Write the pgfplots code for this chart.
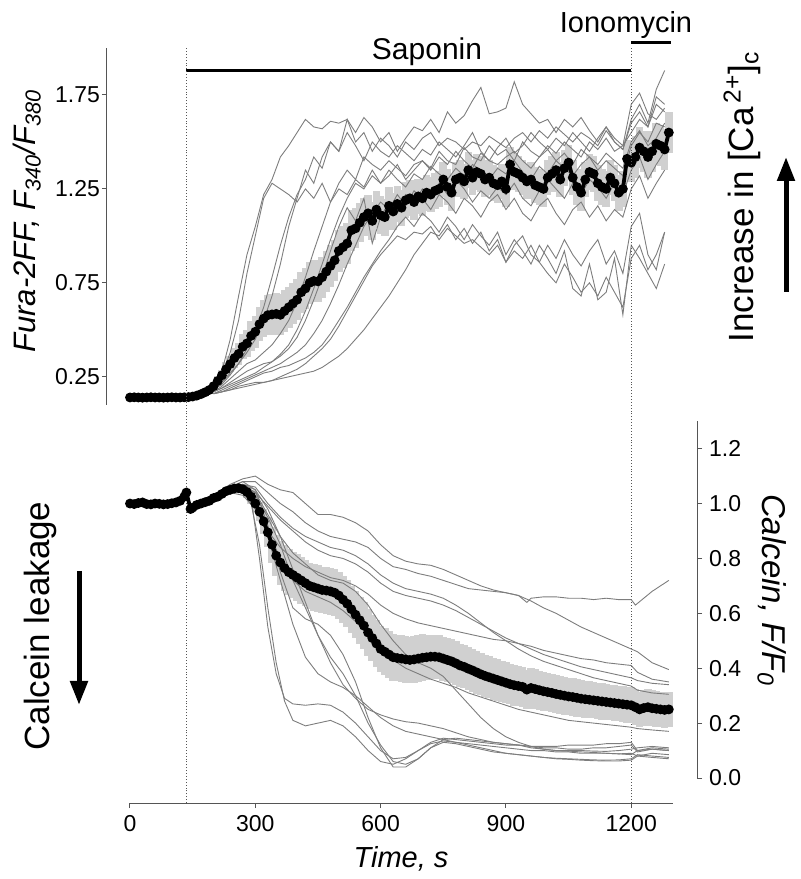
\documentclass[border=0pt]{standalone}
\usepackage{pgfplots}
\pgfplotsset{compat=1.18}
\usepackage{pgfplotstable}
\usepackage{fontspec}
\setmainfont{Liberation Sans}
\setsansfont{Liberation Sans}
\usetikzlibrary{arrows.meta}
\definecolor{band}{RGB}{208,208,208}
\definecolor{trace}{RGB}{125,125,125}
\definecolor{axisgray}{RGB}{85,85,85}
\newcommand\tickfont{\fontsize{11.5}{13}\selectfont}

\pgfplotstableread{
t m e
0 0.140 0.004
10 0.141 0.004
20 0.140 0.004
30 0.139 0.004
40 0.140 0.004
50 0.141 0.004
60 0.140 0.004
70 0.140 0.004
80 0.139 0.004
90 0.140 0.004
100 0.141 0.004
110 0.140 0.004
120 0.140 0.004
130 0.141 0.004
140 0.142 0.004
150 0.145 0.006
160 0.150 0.008
170 0.158 0.010
180 0.168 0.012
190 0.180 0.015
200 0.200 0.020
210 0.228 0.025
220 0.258 0.030
230 0.290 0.038
240 0.318 0.045
250 0.350 0.052
260 0.372 0.060
270 0.410 0.066
280 0.428 0.072
290 0.468 0.078
300 0.490 0.085
310 0.530 0.092
320 0.560 0.100
330 0.578 0.105
340 0.582 0.110
350 0.585 0.110
360 0.580 0.110
370 0.600 0.110
380 0.620 0.110
390 0.640 0.110
400 0.660 0.110
410 0.700 0.110
420 0.720 0.110
430 0.750 0.110
440 0.760 0.110
450 0.758 0.110
460 0.780 0.110
470 0.810 0.110
480 0.840 0.110
490 0.870 0.110
500 0.920 0.110
510 0.940 0.110
520 0.960 0.110
530 1.030 0.108
540 1.040 0.106
550 1.070 0.104
560 1.100 0.102
570 1.120 0.100
580 1.080 0.100
590 1.140 0.100
600 1.110 0.100
610 1.100 0.098
620 1.160 0.098
630 1.130 0.097
640 1.170 0.097
650 1.150 0.096
660 1.190 0.096
670 1.200 0.095
680 1.180 0.095
690 1.210 0.095
700 1.200 0.095
710 1.230 0.095
720 1.220 0.095
730 1.240 0.095
740 1.250 0.095
750 1.300 0.095
760 1.260 0.095
770 1.230 0.095
780 1.300 0.095
790 1.310 0.095
800 1.290 0.095
810 1.350 0.095
820 1.310 0.095
830 1.340 0.095
840 1.330 0.095
850 1.300 0.095
860 1.310 0.095
870 1.280 0.095
880 1.270 0.095
890 1.290 0.095
900 1.250 0.095
910 1.380 0.095
920 1.340 0.095
930 1.330 0.095
940 1.310 0.095
950 1.290 0.095
960 1.300 0.095
970 1.270 0.095
980 1.260 0.095
990 1.250 0.095
1000 1.310 0.095
1010 1.330 0.095
1020 1.350 0.095
1030 1.300 0.095
1040 1.360 0.095
1050 1.390 0.095
1060 1.310 0.095
1070 1.260 0.095
1080 1.230 0.095
1090 1.300 0.095
1100 1.340 0.095
1110 1.330 0.095
1120 1.280 0.095
1130 1.260 0.095
1140 1.250 0.095
1150 1.310 0.095
1160 1.280 0.095
1170 1.230 0.095
1180 1.250 0.095
1190 1.410 0.100
1200 1.390 0.105
1210 1.420 0.110
1220 1.470 0.110
1230 1.450 0.110
1240 1.420 0.110
1250 1.450 0.110
1260 1.490 0.110
1270 1.480 0.110
1280 1.460 0.110
1290 1.550 0.110
}\topmean

\pgfplotstableread{
t A B C D E F G H I J K
200 0.20 0.20 0.18 0.17 0.17 0.16 0.16 0.16 0.17 0.18 0.16
220 0.28 0.26 0.22 0.20 0.19 0.18 0.17 0.17 0.19 0.21 0.17
240 0.45 0.38 0.27 0.24 0.22 0.20 0.19 0.18 0.21 0.26 0.18
260 0.68 0.55 0.32 0.28 0.25 0.22 0.21 0.20 0.23 0.32 0.19
280 0.90 0.80 0.38 0.32 0.28 0.24 0.23 0.21 0.25 0.40 0.20
300 1.05 1.00 0.45 0.34 0.30 0.26 0.25 0.22 0.27 0.50 0.21
320 1.22 1.20 0.55 0.38 0.32 0.28 0.27 0.22 0.30 0.62 0.22
340 1.30 1.28 0.68 0.42 0.33 0.30 0.28 0.23 0.33 0.78 0.23
360 1.42 1.25 0.85 0.48 0.36 0.32 0.30 0.24 0.37 0.95 0.25
380 1.48 1.22 1.05 0.55 0.40 0.35 0.31 0.25 0.42 1.10 0.27
400 1.55 1.18 1.20 0.65 0.46 0.38 0.33 0.26 0.50 1.22 0.29
420 1.62 1.25 1.35 0.78 0.55 0.42 0.35 0.27 0.60 1.30 0.32
440 1.58 1.20 1.28 0.92 0.66 0.48 0.38 0.28 0.72 1.42 0.36
460 1.57 1.28 1.42 1.05 0.78 0.55 0.42 0.30 0.85 1.36 0.40
480 1.61 1.18 1.50 1.18 0.92 0.64 0.48 0.33 0.98 1.50 0.45
500 1.60 1.25 1.45 1.28 1.05 0.74 0.55 0.36 1.10 1.45 0.52
520 1.62 1.22 1.62 1.35 1.15 0.85 0.62 0.40 1.20 1.55 0.60
540 1.55 1.30 1.50 1.30 1.08 0.95 0.70 0.45 1.28 1.48 0.68
560 1.63 1.26 1.55 1.42 1.20 1.05 0.78 0.50 1.25 1.40 0.76
580 1.58 1.35 1.45 1.38 0.96 1.12 0.85 0.56 1.32 1.50 0.84
600 1.50 1.28 1.52 1.35 1.10 1.18 0.92 0.62 1.28 1.45 0.90
620 1.55 1.32 1.48 1.40 1.18 1.14 0.98 0.68 1.35 1.42 0.95
640 1.45 1.38 1.42 1.36 1.12 1.22 1.05 0.75 1.30 1.48 1.00
660 1.52 1.30 1.50 1.32 1.22 1.16 1.10 0.82 1.26 1.44 0.98
680 1.58 1.35 1.46 1.38 1.18 1.24 1.05 0.90 1.33 1.40 1.02
700 1.56 1.40 1.52 1.40 1.25 1.20 1.12 0.96 1.30 1.46 1.01
720 1.62 1.36 1.55 1.35 1.20 1.14 1.08 1.02 1.37 1.43 1.05
740 1.55 1.45 1.48 1.42 1.28 1.22 1.02 1.00 1.33 1.50 0.98
760 1.66 1.40 1.52 1.38 1.22 1.18 1.10 1.06 1.30 1.46 1.04
780 1.60 1.38 1.50 1.45 1.30 1.12 1.05 0.98 1.36 1.42 1.00
800 1.64 1.47 1.46 1.40 1.25 1.20 0.98 1.04 1.32 1.48 0.96
820 1.72 1.42 1.50 1.36 1.18 1.16 1.06 0.96 1.38 1.55 0.98
840 1.79 1.40 1.48 1.44 1.24 1.10 1.00 1.02 1.35 1.45 0.94
860 1.65 1.48 1.53 1.40 1.20 1.18 0.95 0.92 1.30 1.40 0.90
880 1.66 1.43 1.50 1.38 1.26 1.22 1.02 0.98 1.36 1.47 0.95
900 1.68 1.46 1.47 1.42 1.22 1.14 0.90 0.86 1.33 1.52 0.86
920 1.82 1.40 1.52 1.45 1.28 1.20 0.98 0.95 1.40 1.44 0.92
940 1.70 1.50 1.55 1.40 1.20 1.12 0.92 1.00 1.34 1.48 0.88
960 1.65 1.45 1.50 1.36 1.16 1.08 0.85 0.90 1.30 1.55 0.95
980 1.60 1.42 1.56 1.42 1.24 1.16 0.95 0.86 1.37 1.50 0.86
1000 1.62 1.48 1.52 1.46 1.30 1.20 0.88 0.95 1.33 1.46 0.80
1020 1.55 1.44 1.58 1.40 1.25 1.12 0.80 0.88 1.40 1.52 0.75
1040 1.62 1.50 1.54 1.44 1.20 1.06 0.92 0.98 1.36 1.48 0.85
1060 1.58 1.46 1.50 1.38 1.28 1.14 0.72 0.90 1.32 1.55 0.78
1080 1.63 1.42 1.55 1.46 1.22 1.18 0.68 0.84 1.38 1.50 0.70
1100 1.56 1.50 1.52 1.42 1.30 1.10 0.85 0.92 1.42 1.45 0.75
1120 1.50 1.46 1.48 1.38 1.26 1.16 0.66 0.98 1.35 1.52 0.68
1140 1.58 1.52 1.56 1.44 1.20 1.08 0.70 0.85 1.40 1.58 0.78
1160 1.52 1.45 1.50 1.40 1.28 1.14 0.88 0.92 1.36 1.50 0.70
1180 1.48 1.48 1.46 1.36 1.22 1.10 0.58 0.80 1.32 1.46 0.62
1200 1.70 1.55 1.60 1.50 1.35 1.25 0.95 1.05 1.48 1.62 0.88
1220 1.76 1.62 1.66 1.56 1.42 1.32 0.88 1.12 1.55 1.70 0.95
1240 1.65 1.58 1.58 1.48 1.30 1.20 0.80 0.90 1.50 1.60 0.82
1260 1.62 1.70 1.74 1.52 1.38 1.28 0.72 0.82 1.60 1.78 0.90
1280 1.68 1.66 1.70 1.60 1.45 1.35 0.85 1.02 1.58 1.88 1.02
}\toptraces

\pgfplotstableread{
t m e
0 1.000 0.003
10 0.998 0.003
20 1.002 0.003
30 1.004 0.003
40 0.998 0.003
50 0.997 0.003
60 1.000 0.003
70 0.999 0.003
80 0.997 0.003
90 0.998 0.003
100 1.001 0.003
110 1.004 0.003
120 1.010 0.003
130 1.025 0.003
135 1.040 0.003
145 0.980 0.003
150 0.985 0.003
160 0.995 0.003
170 1.000 0.003
180 1.005 0.003
190 1.010 0.003
200 1.020 0.004
210 1.025 0.004
220 1.035 0.005
230 1.045 0.005
240 1.050 0.006
250 1.055 0.008
260 1.056 0.010
270 1.052 0.015
280 1.042 0.020
290 1.025 0.025
300 1.000 0.030
310 0.970 0.035
320 0.935 0.045
330 0.895 0.055
340 0.850 0.065
350 0.810 0.075
360 0.785 0.080
370 0.765 0.085
380 0.750 0.085
390 0.740 0.085
400 0.730 0.085
410 0.720 0.085
420 0.710 0.085
430 0.700 0.085
440 0.695 0.085
450 0.690 0.085
460 0.685 0.085
470 0.683 0.085
480 0.680 0.085
490 0.675 0.085
500 0.665 0.085
510 0.650 0.085
520 0.635 0.085
530 0.615 0.085
540 0.595 0.085
550 0.575 0.085
560 0.555 0.085
570 0.530 0.085
580 0.510 0.085
590 0.490 0.085
600 0.470 0.085
610 0.460 0.085
620 0.450 0.085
630 0.440 0.085
640 0.437 0.085
650 0.435 0.085
660 0.432 0.085
670 0.430 0.085
680 0.432 0.085
690 0.435 0.085
700 0.438 0.085
710 0.440 0.082
720 0.442 0.080
730 0.442 0.080
740 0.440 0.080
750 0.435 0.080
760 0.430 0.080
770 0.425 0.080
780 0.418 0.080
790 0.410 0.080
800 0.405 0.078
810 0.398 0.078
820 0.392 0.078
830 0.385 0.078
840 0.378 0.077
850 0.372 0.077
860 0.367 0.076
870 0.362 0.076
880 0.357 0.075
890 0.352 0.075
900 0.347 0.075
910 0.342 0.074
920 0.338 0.074
930 0.335 0.073
940 0.332 0.073
950 0.322 0.072
960 0.328 0.072
970 0.324 0.072
980 0.320 0.071
990 0.316 0.071
1000 0.313 0.070
1010 0.310 0.070
1020 0.306 0.070
1030 0.303 0.069
1040 0.300 0.069
1050 0.297 0.068
1060 0.295 0.068
1070 0.292 0.068
1080 0.289 0.067
1090 0.287 0.067
1100 0.285 0.067
1110 0.283 0.066
1120 0.281 0.066
1130 0.279 0.066
1140 0.277 0.066
1150 0.275 0.065
1160 0.273 0.065
1170 0.271 0.065
1180 0.269 0.065
1190 0.267 0.065
1200 0.265 0.065
1210 0.258 0.065
1220 0.250 0.065
1230 0.255 0.065
1240 0.258 0.065
1250 0.254 0.065
1260 0.252 0.065
1270 0.250 0.065
1280 0.248 0.065
1290 0.250 0.065
}\botmean

\pgfplotsset{
  every non boxed x axis/.append style={x axis line style={-}},
  every non boxed y axis/.append style={y axis line style={-}},
  common/.style={
    scale only axis, width=271.5pt, height=178.5pt,
    xmin=0, xmax=1300, clip=false,
    tick align=outside, major tick length=2.5pt,
    tick style={axisgray, line width=0.5pt},
    axis line style={axisgray, line width=0.5pt},
    /pgf/number format/assume math mode=true,
    /pgf/number format/1000 sep={},
    ticklabel style={font=\tickfont},
  },
  tr/.style={trace, line width=0.45pt, no markers},
  bandstyle/.style={draw=none, no markers, forget plot,
    error bars/.cd, y dir=both, y explicit, error mark=none,
    error bar style={draw=band, solid, line width=3.8pt}},
  meanstyle/.style={black, line width=1.9pt, mark=*, mark size=1.45pt, mark options={solid}},
}

\begin{document}
\begin{tikzpicture}
\useasboundingbox (0,0) rectangle (400pt,439.5pt);

% ---------- top panel ----------
\begin{axis}[common, at={(65pt,237pt)}, anchor=south west,
  ymin=0.1, ymax=2.0,
  axis x line=none, axis y line*=left, axis y line shift=11.5pt,
  ytick={0.25,0.75,1.25,1.75},
  yticklabel style={xshift=2.5pt, /pgf/number format/.cd, fixed, fixed zerofill, precision=2},
]
\addplot[bandstyle] table[x=t, y=m, y error=e] {\topmean};
\foreach \c in {A,B,C,D,E,F,G,H,I,J,K}{
  \addplot[tr] table[x=t, y=\c] {\toptraces};
}
\addplot[meanstyle] table[x=t, y=m] {\topmean};
\draw[line width=1.5pt] (axis cs:135,1.878) -- (axis cs:1200,1.878);
\draw[line width=1.5pt] (axis cs:1200,2.027) -- (axis cs:1295,2.027);
\end{axis}

% ---------- bottom panel ----------
\begin{axis}[common, at={(65pt,50.5pt)}, anchor=south west,
  height=178.4pt, ymin=0, ymax=1.3,
  axis x line*=bottom, axis y line*=right,
  axis x line shift=12.5pt, axis y line shift=12pt,
  xtick={0,300,600,900,1200},
  ytick={0,0.2,0.4,0.6,0.8,1.0,1.2},
  yticklabel style={/pgf/number format/.cd, fixed, fixed zerofill, precision=1},
]
\draw[densely dotted, axisgray, line width=0.45pt] (axis cs:135,-0.091) -- (axis cs:135,2.66);
\draw[densely dotted, axisgray, line width=0.45pt] (axis cs:1200,-0.091) -- (axis cs:1200,2.66);
\addplot[bandstyle] table[x=t, y=m, y error=e] {\botmean};
\addplot[tr] coordinates {(210,1.04)(240,1.07)(270,1.09)(300,1.10)(330,1.07)(360,1.05)(390,1.04)(420,1.00)(450,0.96)(480,0.96)(510,0.95)(540,0.93)(570,0.90)(600,0.85)(630,0.81)(660,0.79)(690,0.78)(720,0.775)(750,0.76)(780,0.74)(810,0.72)(840,0.70)(870,0.685)(900,0.675)(930,0.665)(960,0.645)(990,0.62)(1020,0.60)(1050,0.575)(1080,0.55)(1110,0.53)(1140,0.51)(1170,0.49)(1200,0.47)(1215,0.46)(1250,0.42)(1290,0.395)};
\addplot[tr] coordinates {(210,1.03)(240,1.06)(270,1.08)(300,1.08)(330,1.04)(360,1.00)(390,0.97)(420,0.93)(450,0.90)(480,0.88)(510,0.87)(540,0.86)(570,0.84)(600,0.80)(630,0.77)(660,0.76)(690,0.745)(720,0.735)(750,0.72)(780,0.705)(810,0.69)(840,0.685)(870,0.68)(900,0.675)(930,0.665)(950,0.64)(960,0.655)(990,0.66)(1020,0.66)(1050,0.655)(1080,0.655)(1110,0.65)(1140,0.655)(1170,0.65)(1200,0.65)(1210,0.63)(1250,0.68)(1290,0.72)};
\addplot[tr] coordinates {(210,1.03)(240,1.05)(270,1.07)(300,1.06)(330,1.00)(360,0.95)(390,0.91)(420,0.88)(450,0.86)(480,0.84)(510,0.83)(540,0.81)(570,0.78)(600,0.74)(630,0.71)(660,0.69)(690,0.68)(720,0.67)(750,0.655)(780,0.63)(810,0.60)(840,0.565)(870,0.53)(900,0.50)(930,0.47)(960,0.445)(990,0.425)(1020,0.41)(1050,0.395)(1080,0.38)(1110,0.365)(1140,0.355)(1170,0.345)(1200,0.335)(1215,0.32)(1250,0.31)(1290,0.305)};
\addplot[tr] coordinates {(210,1.02)(240,1.05)(270,1.06)(300,1.04)(330,0.99)(360,0.94)(390,0.90)(420,0.86)(450,0.83)(480,0.81)(510,0.80)(540,0.78)(570,0.75)(600,0.71)(630,0.68)(660,0.665)(690,0.655)(720,0.645)(750,0.63)(780,0.61)(810,0.585)(840,0.56)(870,0.535)(900,0.51)(930,0.49)(960,0.47)(990,0.45)(1020,0.435)(1050,0.42)(1080,0.405)(1110,0.395)(1140,0.385)(1170,0.375)(1200,0.365)(1215,0.355)(1250,0.345)(1290,0.34)};
\addplot[tr] coordinates {(210,1.02)(240,1.04)(270,1.03)(300,0.98)(330,0.90)(360,0.84)(390,0.80)(420,0.77)(450,0.75)(480,0.73)(510,0.72)(540,0.70)(570,0.67)(600,0.63)(630,0.60)(660,0.58)(690,0.565)(720,0.555)(750,0.545)(780,0.535)(810,0.525)(840,0.515)(870,0.505)(900,0.50)(930,0.49)(960,0.48)(990,0.465)(1020,0.455)(1050,0.445)(1080,0.435)(1110,0.43)(1140,0.42)(1170,0.415)(1200,0.41)(1215,0.385)(1250,0.36)(1290,0.35)};
\addplot[tr] coordinates {(210,1.03)(240,1.05)(270,1.04)(300,0.99)(330,0.90)(360,0.80)(390,0.72)(420,0.68)(450,0.66)(480,0.64)(510,0.61)(540,0.57)(570,0.52)(600,0.47)(630,0.43)(660,0.40)(690,0.38)(720,0.36)(750,0.345)(780,0.33)(810,0.31)(840,0.295)(870,0.28)(900,0.265)(930,0.25)(960,0.24)(990,0.23)(1020,0.22)(1050,0.21)(1080,0.205)(1110,0.20)(1140,0.195)(1170,0.19)(1200,0.185)(1215,0.18)(1250,0.175)(1290,0.17)};
\addplot[tr] coordinates {(210,1.04)(240,1.06)(270,1.07)(300,1.04)(330,0.96)(360,0.88)(390,0.82)(420,0.78)(450,0.74)(480,0.72)(510,0.71)(540,0.68)(570,0.63)(600,0.56)(630,0.50)(660,0.45)(690,0.42)(720,0.40)(750,0.37)(780,0.32)(810,0.27)(840,0.22)(870,0.18)(900,0.15)(930,0.13)(960,0.115)(990,0.105)(1020,0.10)(1050,0.098)(1080,0.095)(1110,0.093)(1140,0.09)(1170,0.088)(1200,0.085)(1215,0.10)(1250,0.105)(1290,0.10)};
\addplot[tr] coordinates {(210,1.03)(240,1.05)(270,1.06)(290,1.02)(310,0.80)(330,0.55)(350,0.38)(370,0.29)(390,0.27)(420,0.265)(450,0.27)(480,0.265)(510,0.24)(540,0.20)(570,0.15)(600,0.10)(630,0.07)(660,0.075)(690,0.10)(720,0.125)(750,0.135)(780,0.13)(810,0.125)(840,0.12)(870,0.115)(900,0.11)(930,0.105)(960,0.10)(990,0.10)(1020,0.095)(1050,0.095)(1080,0.09)(1110,0.09)(1140,0.09)(1170,0.088)(1200,0.09)(1215,0.08)(1250,0.09)(1290,0.085)};
\addplot[tr] coordinates {(210,1.02)(240,1.04)(270,1.05)(290,1.00)(310,0.85)(330,0.62)(350,0.42)(370,0.28)(390,0.21)(420,0.19)(450,0.20)(480,0.21)(510,0.19)(540,0.15)(570,0.10)(600,0.06)(630,0.05)(660,0.07)(690,0.10)(720,0.13)(750,0.145)(780,0.14)(810,0.135)(840,0.13)(870,0.125)(900,0.12)(930,0.12)(960,0.115)(990,0.115)(1020,0.115)(1050,0.12)(1080,0.12)(1110,0.12)(1140,0.125)(1170,0.125)(1200,0.13)(1215,0.10)(1250,0.11)(1290,0.105)};
\addplot[tr] coordinates {(210,1.03)(240,1.05)(270,1.06)(300,1.03)(330,0.95)(360,0.85)(390,0.72)(420,0.62)(450,0.52)(480,0.44)(510,0.38)(540,0.30)(570,0.20)(600,0.12)(630,0.06)(660,0.05)(690,0.07)(720,0.11)(750,0.14)(780,0.145)(810,0.14)(840,0.135)(870,0.13)(900,0.125)(930,0.12)(960,0.115)(990,0.11)(1020,0.11)(1050,0.105)(1080,0.105)(1110,0.11)(1140,0.11)(1170,0.115)(1200,0.12)(1215,0.095)(1250,0.105)(1290,0.10)};
\addplot[tr] coordinates {(210,1.03)(240,1.06)(270,1.08)(300,1.05)(330,0.92)(360,0.75)(390,0.62)(420,0.58)(450,0.56)(480,0.52)(510,0.45)(540,0.35)(570,0.22)(600,0.11)(630,0.04)(660,0.04)(690,0.07)(720,0.11)(750,0.13)(780,0.125)(810,0.115)(840,0.105)(870,0.095)(900,0.09)(930,0.085)(960,0.08)(990,0.075)(1020,0.072)(1050,0.07)(1080,0.068)(1110,0.066)(1140,0.065)(1170,0.066)(1200,0.07)(1215,0.085)(1250,0.08)(1290,0.075)};
\addplot[tr] coordinates {(210,1.02)(240,1.04)(270,1.05)(300,1.00)(330,0.88)(360,0.72)(390,0.56)(420,0.44)(450,0.38)(480,0.35)(510,0.33)(540,0.30)(570,0.26)(600,0.22)(630,0.19)(660,0.17)(690,0.16)(720,0.15)(750,0.14)(780,0.13)(810,0.12)(840,0.11)(870,0.10)(900,0.09)(930,0.085)(960,0.08)(990,0.075)(1020,0.07)(1050,0.068)(1080,0.065)(1110,0.063)(1140,0.062)(1170,0.062)(1200,0.065)(1215,0.08)(1250,0.075)(1290,0.07)};
\addplot[tr] coordinates {(210,1.03)(240,1.06)(270,1.07)(300,1.05)(330,0.98)(360,0.88)(390,0.76)(420,0.64)(450,0.52)(480,0.42)(510,0.34)(540,0.29)(570,0.25)(600,0.23)(630,0.215)(660,0.205)(690,0.20)(720,0.19)(750,0.18)(780,0.165)(810,0.15)(840,0.14)(870,0.13)(900,0.125)(930,0.12)(960,0.11)(990,0.105)(1020,0.10)(1050,0.10)(1080,0.10)(1110,0.098)(1140,0.097)(1170,0.10)(1200,0.105)(1215,0.11)(1250,0.115)(1290,0.11)};
\addplot[meanstyle] table[x=t, y=m] {\botmean};
\end{axis}

% ---------- labels and annotations ----------
\node[rotate=90, font=\fontsize{15.5}{18}\selectfont\itshape] at (13.5pt,329pt) {Fura-2FF, F\textsubscript{340}/F\textsubscript{380}};
\node[anchor=base, font=\fontsize{15}{18}\selectfont] at (213.5pt,409.5pt) {Saponin};
\node[anchor=base, font=\fontsize{14.5}{17}\selectfont] at (313pt,423pt) {Ionomycin};
\node[rotate=90, font=\fontsize{17.5}{20}\selectfont] at (371pt,341pt) {Increase in [Ca\textsuperscript{\,2+}]\textsubscript{c}};
\draw[line width=2.5pt, -{Triangle[width=8.5pt,length=12pt]}] (393pt,293.5pt) -- (393pt,361pt);
\node[rotate=90, font=\fontsize{17.5}{20}\selectfont] at (20pt,126.5pt) {Calcein leakage};
\draw[line width=2.5pt, -{Triangle[width=8.5pt,length=12pt]}] (39.5pt,154pt) -- (39.5pt,87pt);
\node[rotate=-90, font=\fontsize{16.5}{19}\selectfont\itshape] at (386pt,144.5pt) {Calcein, F/F\textsubscript{0}};
\node[anchor=base, font=\fontsize{14.5}{17}\selectfont\itshape] at (200.5pt,5.5pt) {Time, s};
\end{tikzpicture}
\end{document}
